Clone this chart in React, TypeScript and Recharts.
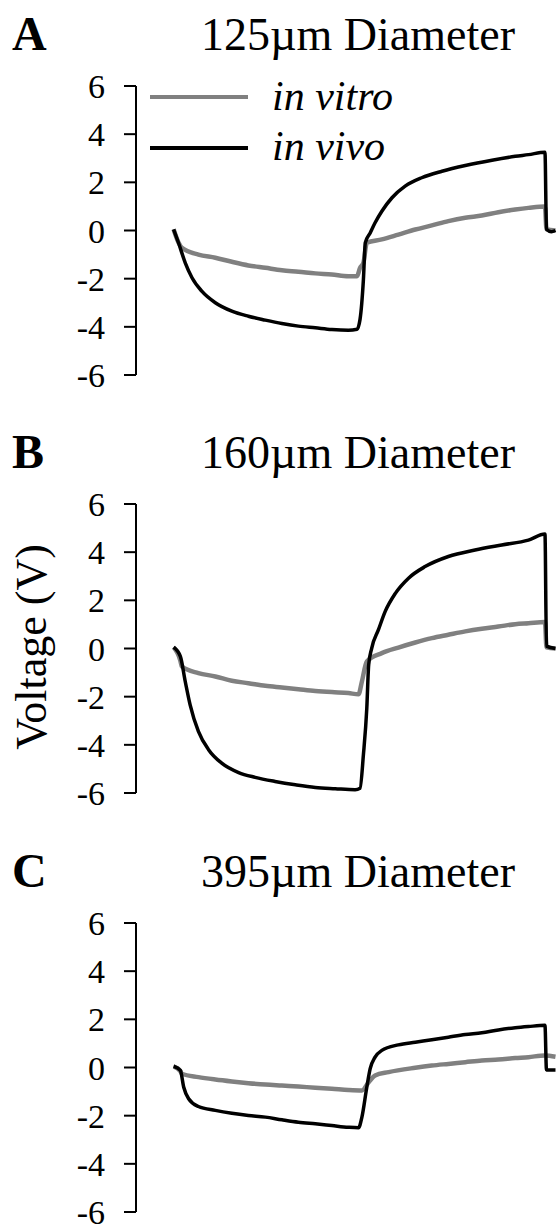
import React from 'react';
import { LineChart, Line, XAxis, YAxis } from 'recharts';

// time axis in arbitrary units (pulse reverses at ~50, ends at ~99)
const yTicks = [-6, -4, -2, 0, 2, 4, 6];
const legendNames = ['in vitro', 'in vivo'];

// 125um
const aVitroT = [0, 1.3, 2.2, 6.6, 11.1, 15.5, 19.9, 24.4, 28.8, 33.2, 37.7, 42.1, 46.5, 48.8, 49.6, 50.5, 51.4, 55.4, 59.8, 64.3, 68.7, 73.1, 77.6, 82.0, 86.4, 90.9, 94.4, 98.8, 99.2, 101.6];
const aVitroV = [0.05, -0.5, -0.72, -1.0, -1.13, -1.3, -1.45, -1.55, -1.65, -1.71, -1.78, -1.83, -1.9, -1.9, -1.55, -1.34, -0.51, -0.37, -0.17, 0.04, 0.21, 0.39, 0.53, 0.62, 0.76, 0.87, 0.94, 1.0, 0.05, 0.0];
const aVivoT = [0, 1.3, 3.1, 4.9, 7.5, 11.1, 15.5, 19.9, 24.4, 28.8, 33.2, 37.7, 42.1, 46.5, 48.8, 49.6, 50.5, 51.0, 52.3, 53.6, 55.4, 58.1, 61.6, 66.0, 71.4, 77.6, 84.7, 90.9, 94.4, 98.8, 99.2, 100.5, 101.6];
const aVivoV = [0.05, -0.51, -1.34, -1.96, -2.52, -3.0, -3.35, -3.56, -3.72, -3.86, -3.97, -4.04, -4.11, -4.14, -4.1, -3.69, -2.03, -0.51, -0.1, 0.32, 0.8, 1.36, 1.84, 2.19, 2.46, 2.7, 2.92, 3.08, 3.15, 3.25, 0.05, -0.05, 0.0];

// 160um
const bVitroT = [0, 1.8, 2.2, 6.6, 11.1, 15.5, 19.9, 24.4, 28.8, 33.2, 37.7, 42.1, 46.5, 49.2, 50.1, 51.4, 55.4, 59.8, 64.3, 68.7, 73.1, 77.6, 82.0, 86.4, 90.9, 94.4, 98.8, 99.2, 101.6];
const bVitroV = [0.05, -0.5, -0.75, -1.02, -1.16, -1.34, -1.44, -1.55, -1.62, -1.69, -1.76, -1.81, -1.85, -1.9, -1.37, -0.54, -0.19, 0.04, 0.25, 0.43, 0.57, 0.71, 0.82, 0.91, 1.01, 1.05, 1.1, 0.05, 0.0];
const bVivoT = [0, 1.8, 3.1, 4.4, 6.6, 9.3, 12.8, 17.3, 21.7, 27.0, 32.4, 37.7, 43.0, 48.3, 49.6, 50.5, 51.4, 51.9, 52.7, 54.5, 56.3, 59.0, 62.5, 66.9, 73.1, 80.2, 87.3, 94.4, 98.8, 99.2, 101.6];
const bVivoV = [0.05, -0.33, -1.37, -2.34, -3.44, -4.2, -4.76, -5.15, -5.35, -5.52, -5.66, -5.77, -5.82, -5.86, -5.8, -4.41, -2.48, -0.68, 0.01, 0.78, 1.54, 2.29, 2.92, 3.4, 3.82, 4.09, 4.3, 4.5, 4.75, 0.1, 0.0];

// 395um
const cVitroT = [0, 1.8, 2.2, 6.6, 11.1, 15.5, 19.9, 24.4, 28.8, 33.2, 37.7, 42.1, 46.5, 50.1, 51.9, 53.6, 57.2, 64.3, 68.7, 73.1, 77.6, 82.0, 86.4, 90.9, 94.4, 98.8, 101.6];
const cVitroV = [0.05, -0.15, -0.26, -0.4, -0.5, -0.58, -0.65, -0.71, -0.75, -0.79, -0.84, -0.88, -0.93, -0.95, -0.61, -0.33, -0.19, -0.01, 0.08, 0.15, 0.22, 0.29, 0.33, 0.39, 0.43, 0.5, 0.45];
const cVivoT = [0, 1.8, 2.7, 4.0, 6.6, 11.1, 15.5, 19.9, 24.4, 28.8, 33.2, 37.7, 42.1, 46.5, 49.2, 50.1, 51.4, 52.3, 53.6, 55.4, 59.8, 64.3, 68.7, 73.1, 77.6, 82.0, 86.4, 90.9, 94.4, 98.8, 99.2, 101.6];
const cVivoV = [0.05, -0.12, -0.82, -1.3, -1.62, -1.78, -1.9, -1.99, -2.06, -2.17, -2.27, -2.34, -2.41, -2.48, -2.5, -2.06, -0.82, -0.05, 0.43, 0.71, 0.94, 1.05, 1.15, 1.26, 1.37, 1.44, 1.56, 1.65, 1.7, 1.75, -0.1, -0.1];

const toPoints = (t: number[], v: number[]) => t.map((x, i) => ({ t: x, v: v[i] }));

const SERIF = '"Liberation Serif", "Times New Roman", serif';
const GRAY = '#808080';

type PanelProps = {
  top: number;
  height: number;
  bottom: number;
  letter: string;
  title: string;
  vitro: { t: number; v: number }[];
  vivo: { t: number; v: number }[];
  legend?: boolean;
  yLabel?: boolean;
};

const Panel = ({ top, height, bottom, letter, title, vitro, vivo, legend, yLabel }: PanelProps) => (
  <div style={{ position: 'absolute', left: 0, top, width: 560, height }}>
    <LineChart width={560} height={height} margin={{ top: 86, right: 3, bottom, left: 0 }}>
      <XAxis type="number" dataKey="t" domain={[-10, 102]} hide allowDuplicatedCategory={false} />
      <YAxis
        type="number"
        domain={[-6, 6]}
        ticks={yTicks}
        interval={0}
        width={136}
        tickSize={12}
        tickMargin={19}
        axisLine={{ stroke: '#000', strokeWidth: 2 }}
        tickLine={{ stroke: '#000', strokeWidth: 2 }}
        tick={{ fill: '#000', fontSize: 34, fontFamily: SERIF }}
      />
      <Line data={vitro} dataKey="v" type="monotone" stroke={GRAY} strokeWidth={4.5} dot={false} isAnimationActive={false} />
      <Line data={vivo} dataKey="v" type="monotone" stroke="#000" strokeWidth={3.5} dot={false} isAnimationActive={false} />
    </LineChart>
    <div style={{ position: 'absolute', left: 12, top: 10, fontSize: 48, lineHeight: 1, fontWeight: 'bold', fontFamily: SERIF }}>
      {letter}
    </div>
    <div style={{ position: 'absolute', left: 358, top: 11.5, transform: 'translateX(-50%)', fontSize: 46, lineHeight: 1, whiteSpace: 'nowrap', fontFamily: SERIF }}>
      {title}
    </div>
    {legend && (
      <div>
        <svg style={{ position: 'absolute', left: 0, top: 0 }} width={260} height={160}>
          <line x1={150} x2={248} y1={97} y2={97} stroke={GRAY} strokeWidth={4} />
          <line x1={150} x2={248} y1={148} y2={148} stroke="#000" strokeWidth={4} />
        </svg>
        <div style={{ position: 'absolute', left: 272, top: 75, fontSize: 42, lineHeight: 1, fontStyle: 'italic', whiteSpace: 'nowrap', fontFamily: SERIF }}>
          {legendNames[0]}
        </div>
        <div style={{ position: 'absolute', left: 272, top: 125, fontSize: 42, lineHeight: 1, fontStyle: 'italic', whiteSpace: 'nowrap', fontFamily: SERIF }}>
          {legendNames[1]}
        </div>
      </div>
    )}
    {yLabel && (
      <div style={{ position: 'absolute', left: 31, top: 229, transform: 'translate(-50%, -50%) rotate(-90deg)', fontSize: 44, whiteSpace: 'nowrap', fontFamily: SERIF }}>
        Voltage (V)
      </div>
    )}
  </div>
);

export default function App() {
  return (
    <div style={{ position: 'absolute', left: 0, top: 0, width: 560, height: 1226, background: '#fff', fontFamily: SERIF, color: '#000' }}>
      <Panel top={0} height={400} bottom={25} letter="A" title="125µm Diameter"
        vitro={toPoints(aVitroT, aVitroV)} vivo={toPoints(aVivoT, aVivoV)} legend />
      <Panel top={418} height={400} bottom={25} letter="B" title="160µm Diameter"
        vitro={toPoints(bVitroT, bVitroV)} vivo={toPoints(bVivoT, bVivoV)} yLabel />
      <Panel top={837} height={389} bottom={14} letter="C" title="395µm Diameter"
        vitro={toPoints(cVitroT, cVitroV)} vivo={toPoints(cVivoT, cVivoV)} />
    </div>
  );
}
